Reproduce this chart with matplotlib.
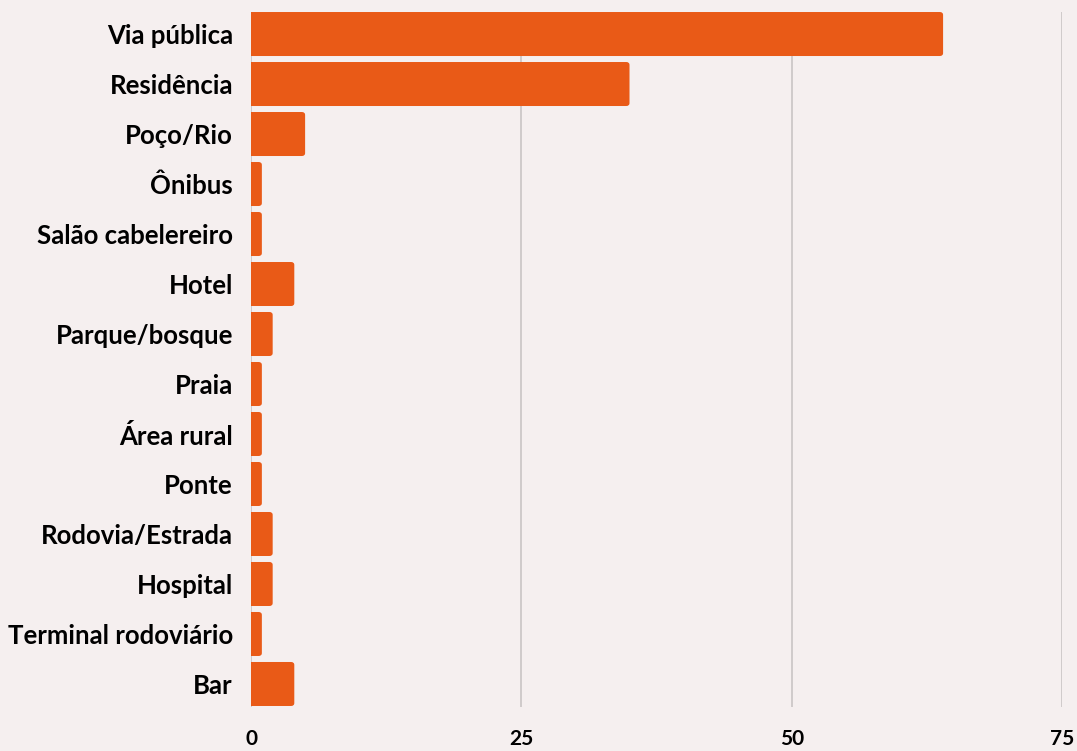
import matplotlib

matplotlib.use("Agg")
import matplotlib.pyplot as plt
from matplotlib.patches import FancyBboxPatch


categories = [
    "Via pública",
    "Residência",
    "Poço/Rio",
    "Ônibus",
    "Salão cabelereiro",
    "Hotel",
    "Parque/bosque",
    "Praia",
    "Área rural",
    "Ponte",
    "Rodovia/Estrada",
    "Hospital",
    "Terminal rodoviário",
    "Bar",
]
values = [64, 35, 5, 1, 1, 4, 2, 1, 1, 1, 2, 2, 1, 4]
x_ticks = [0, 25, 50, 75]

BG = "#f5efef"
BAR = "#e95a17"

fig = plt.figure(figsize=(10.77, 7.51), dpi=100, facecolor=BG)
ax = fig.add_axes([0.2331, 0.0586, 0.753, 0.9254], facecolor=BG)

pos = list(range(len(categories)))
bars = ax.barh(pos, values, height=0.88, color=BAR, zorder=3)

# swap plain rectangles for ones with slightly rounded right corners;
# extend them left of 0 so the axes clip away the left rounding
for b in bars:
    x, y = b.get_x(), b.get_y()
    w, h = b.get_width(), b.get_height()
    b.remove()
    ax.add_patch(FancyBboxPatch(
        (x - 1, y), w + 1, h,
        boxstyle="round,pad=0,rounding_size=0.3",
        mutation_aspect=0.2,
        facecolor=BAR, edgecolor="none", zorder=3,
    ))

ax.set_xlim(0, 75)
ax.set_ylim(13.46, -0.44)
ax.set_xticks(x_ticks)
ax.set_xticklabels([str(t) for t in x_ticks], fontfamily="Lato",
                   fontweight="bold", fontsize=15)
ax.set_yticks(pos)
ax.set_yticklabels(categories, fontfamily="Lato", fontweight="bold", fontsize=18.5)

ax.tick_params(axis="both", length=0)
ax.tick_params(axis="x", pad=16)
ax.tick_params(axis="y", pad=13)

for t in x_ticks:
    ax.axvline(t, color="#c9c4c4", linewidth=1.2, zorder=1)

for s in ax.spines.values():
    s.set_visible(False)

fig.savefig("out.png", dpi=100, facecolor=BG)
